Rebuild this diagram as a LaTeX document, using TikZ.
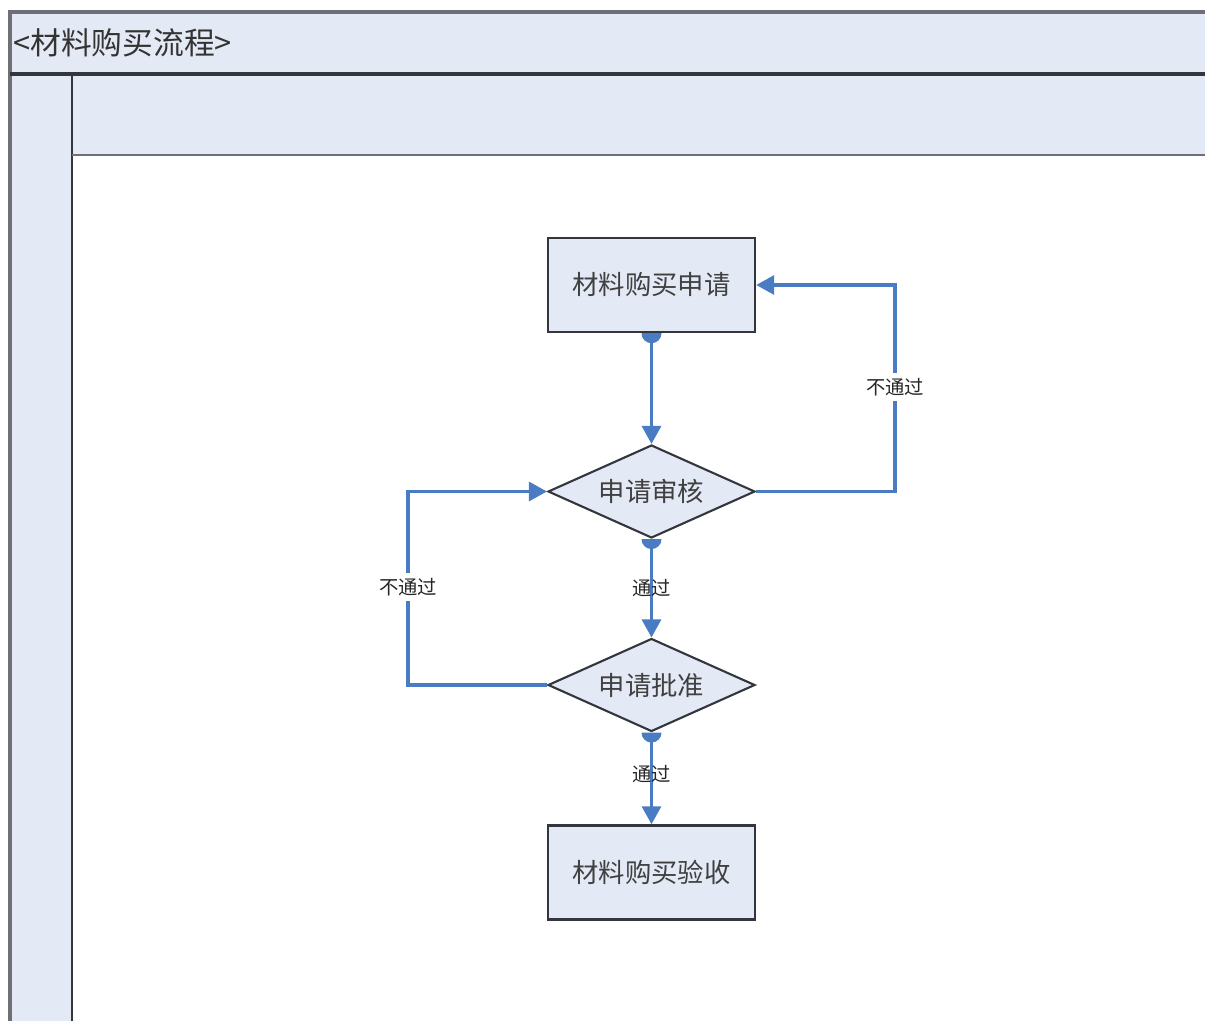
\documentclass[tikz,border=0pt]{standalone}
\usepackage{fontspec}
\setmainfont{Noto Sans CJK SC}
\usetikzlibrary{arrows.meta,shapes.geometric}
\definecolor{bandfill}{HTML}{E4EAF5}
\definecolor{nodefill}{HTML}{E3E9F5}
\definecolor{flowblue}{HTML}{4A7CC4}
\definecolor{framedark}{HTML}{33373D}
\definecolor{framegray}{HTML}{6E7075}
\tikzset{
  procbox/.style={draw=framedark, line width=1.4pt, fill=nodefill, minimum width=207*0.02cm, minimum height=94*0.02cm,
    inner sep=0pt, font=\fontsize{15}{17}\selectfont, text=black!75},
  decision/.style={draw=framedark, line width=1.2pt, fill=nodefill, diamond, aspect=2.22, minimum width=207*0.02cm,
    minimum height=93*0.02cm, inner sep=0pt, font=\fontsize{15}{17}\selectfont, text=black!75},
  flow/.style={draw=flowblue, line width=1.8pt, line join=miter, -{Triangle[length=0.36cm,width=0.38cm]}},
  edgelabel/.style={font=\fontsize{11}{13}\selectfont, text=black!85, inner sep=1pt},
  startdot/.style={fill=flowblue}
}
\begin{document}
\begin{tikzpicture}[x=0.02cm, y=-0.02cm]
\useasboundingbox (0,0) rectangle (1205,1021);
% swimlane frame
\fill[bandfill] (10,12) rectangle (1205,74);
\fill[bandfill] (10,74) rectangle (72,1021);
\fill[bandfill] (72,74) rectangle (1205,155);
\draw[framegray, line width=2pt] (10,1021) -- (10,12) -- (1205,12);
\draw[framedark, line width=2pt] (10,74) -- (1205,74);
\draw[framedark, line width=1.6pt] (72,74) -- (72,1021);
\draw[framegray, line width=1.6pt] (72,155) -- (1205,155);
\node[anchor=west, font=\fontsize{17.5}{20}\selectfont, text=black!80, inner sep=0pt] (title) at (13,43) {<材料购买流程>};

% process nodes
\node[procbox] (apply) at (651.5,285) {材料购买申请};
\node[decision] (review) at (651.5,491.5) {申请审核};
\node[decision] (approve) at (651.5,685) {申请批准};
\node[procbox] (accept) at (651.5,872.5) {材料购买验收};

% connectors
\draw[flow] (apply.south) -- (review.north);
\draw[flow] (review.south) -- node[edgelabel] (passA) {通过} (approve.north);
\draw[flow] (approve.south) -- node[edgelabel, pos=0.45] (passB) {通过} (accept.north);
\coordinate (rtop) at (895,285);
\coordinate (rbot) at (895,491.5);
\coordinate (ltop) at (408,491.5);
\coordinate (lbot) at (408,685);
\draw[flow] (review.east) -- (rbot) -- (rtop) -- (apply.east);
\node[edgelabel, fill=white, inner ysep=3pt] (rejA) at (895,387) {不通过};
\draw[flow] (approve.west) -- (lbot) -- (ltop) -- (review.west);
\node[edgelabel, fill=white, inner ysep=3pt] (rejB) at (408,587) {不通过};

% connector start dots
\foreach \n in {apply, review, approve}
  \fill[startdot] (\n.south) ++(-10,0) arc[start angle=180, end angle=0, radius=10] -- cycle;
\end{tikzpicture}
\end{document}
